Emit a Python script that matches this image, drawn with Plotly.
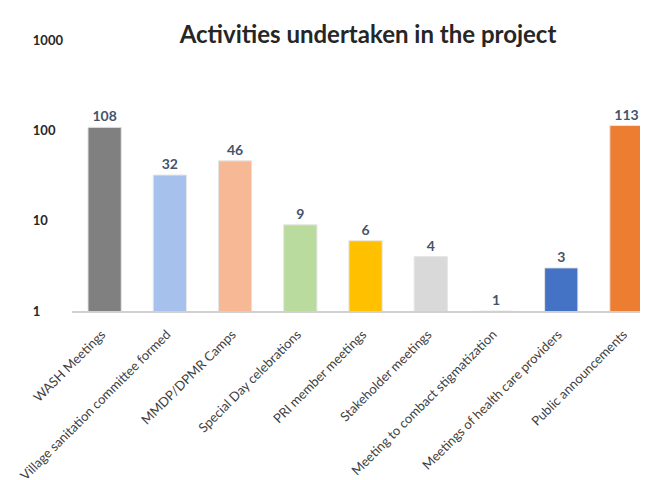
import plotly.graph_objects as go

categories = ["WASH Meetings", "Village sanitation committee formed", "MMDP/DPMR Camps",
              "Special Day celebrations", "PRI member meetings", "Stakeholder meetings",
              "Meeting to combact stigmatization", "Meetings of health care providers",
              "Public announcements"]
values = [108, 32, 46, 9, 6, 4, 1, 3, 113]
bar_colors = ["#808080", "#a6c1ec", "#f7b995", "#b9dc9e", "#ffc000", "#d9d9d9",
              "#ffffff", "#4472c4", "#ed7d31"]
y_ticks = [1, 10, 100, 1000]
y_tick_labels = ["1", "10", "100", "1000"]

# left-align the y tick labels by padding with figure spaces
FS = "\u2007"
width_max = max(len(t) for t in y_tick_labels)
y_tick_text = [t + FS * (width_max - len(t)) for t in y_tick_labels]

fig = go.Figure(go.Bar(
    x=categories, y=values,
    marker=dict(color=bar_colors, line=dict(color="#e6e6e6", width=1)),
    text=[str(v) for v in values], textposition="outside",
    textfont=dict(family="Lato", size=14, color="#44546a", weight="bold"),
    cliponaxis=False,
))

# the page body adds an 8px offset; margins compensate
fig.update_layout(
    width=648, height=480,
    margin=dict(l=64, r=8, t=32, b=177),
    paper_bgcolor="white", plot_bgcolor="white",
    title=dict(text="Activities undertaken in the project", x=360 / 648, xanchor="center",
               y=1 - 27 / 480, yanchor="middle",
               font=dict(family="Lato", size=24, color="#262626", weight="bold")),
    bargap=0.49,
    showlegend=False,
)
fig.update_xaxes(
    range=[-0.5, 8.33], tickangle=-45, showline=True, linecolor="#d0d0d0", linewidth=1.5,
    ticks="", tickfont=dict(family="Lato", size=13, color="#404040"), showgrid=False,
    automargin=False, ticklabelshift=-3, ticklabelstandoff=9,
)
fig.update_yaxes(
    type="log", range=[0, 3], tickvals=y_ticks, ticktext=y_tick_text,
    ticks="", showline=False, showgrid=False, zeroline=False, automargin=False,
    ticklabelstandoff=8,
    tickfont=dict(family="Lato", size=13, color="#262626", weight="bold"),
)
fig.write_html("out.html")
